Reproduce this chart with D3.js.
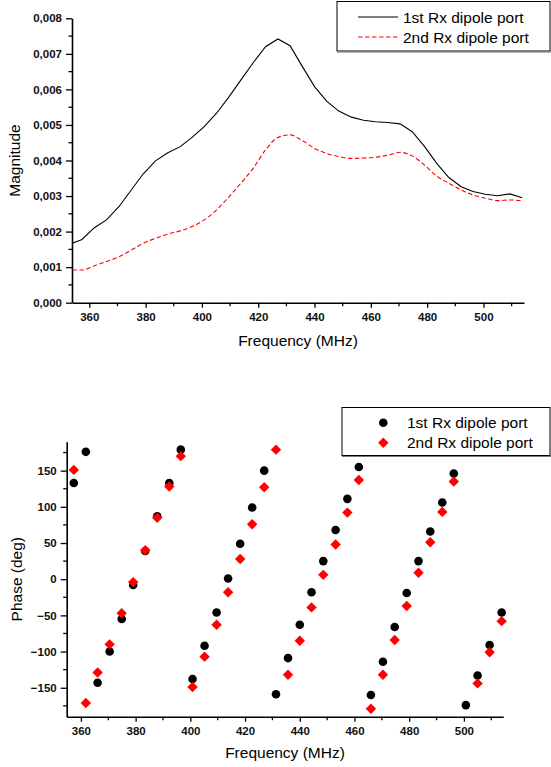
<!DOCTYPE html>
<html>
<head>
<meta charset="utf-8">
<script src="https://cdn.jsdelivr.net/npm/d3@7"></script>
<style>
  html, body { margin: 0; padding: 0; background: #fff; }
  svg { display: block; font-family: "Liberation Sans", Arial, sans-serif; }
</style>
</head>
<body>
<svg id="chart" width="551" height="767"></svg>
<script>
// Magnitude sweep (MHz) and the two receive-port responses
const magFreq = [354.0, 357.4, 361.8, 366.1, 370.5, 374.9, 379.1, 383.5, 387.9, 392.3, 396.5,
  400.8, 405.2, 409.6, 413.8, 418.2, 422.6, 427.0, 431.3, 435.7, 440.0, 444.3, 448.6, 453.1,
  457.4, 461.6, 466.0, 470.4, 474.7, 479.1, 483.4, 487.7, 492.1, 496.3, 500.7, 505.0, 509.4, 513.8];
const mag1st = [0.00167, 0.00178, 0.00211, 0.00233, 0.00270, 0.00317, 0.00362, 0.00399, 0.00422,
  0.00439, 0.00465, 0.00495, 0.00533, 0.00579, 0.00626, 0.00675, 0.00720, 0.00742, 0.00723,
  0.00664, 0.00608, 0.00567, 0.00539, 0.00522, 0.00513, 0.00509, 0.00507, 0.00503, 0.00481,
  0.00439, 0.00392, 0.00352, 0.00326, 0.00313, 0.00305, 0.00301, 0.00306, 0.00295];
const mag2nd = [0.00092, 0.00092, 0.00104, 0.00116, 0.00129, 0.00148, 0.00167, 0.00181, 0.00193,
  0.00202, 0.00214, 0.00233, 0.00261, 0.00298, 0.00336, 0.00378, 0.00430, 0.00465, 0.00472,
  0.00456, 0.00434, 0.00420, 0.00411, 0.00406, 0.00407, 0.00409, 0.00415, 0.00423, 0.00413,
  0.00387, 0.00356, 0.00336, 0.00317, 0.00303, 0.00294, 0.00287, 0.00289, 0.00287];

// Phase samples (MHz, degrees)
const phaseFreq = [357.4, 361.8, 366.1, 370.5, 374.9, 379.1, 383.5, 387.9, 392.3, 396.5,
  400.8, 405.2, 409.6, 413.8, 418.2, 422.6, 427.0, 431.3, 435.7, 440.0, 444.3, 448.6, 453.1,
  457.4, 461.6, 466.0, 470.4, 474.7, 479.1, 483.4, 487.7, 492.1, 496.3, 500.7, 505.0, 509.4, 513.8];
const phase1st = [133, 176, -143, -100, -55, -8, 39, 87, 133, 179,
  -138, -92, -46, 1, 49, 99, 150, -159, -109, -63, -18, 25, 68,
  111, 155, -160, -114, -66, -19, 25, 66, 106, 146, -174, -133, -91, -46];
const phase2nd = [151, -171, -129, -90, -47, -4, 40, 85, 128, 170,
  -149, -107, -63, -18, 28, 76, 127, 179, -132, -85, -39, 6, 48,
  92, 137, -179, -132, -84, -37, 9, 51, 93, 135, null, -144, -101, -58];

const seriesNames = ["1st Rx dipole port", "2nd Rx dipole port"];
const magTicksX = [360, 380, 400, 420, 440, 460, 480, 500];
const magTicksY = [0, 0.001, 0.002, 0.003, 0.004, 0.005, 0.006, 0.007, 0.008];
const phaseTicksY = [-150, -100, -50, 0, 50, 100, 150];

const svg = d3.select("#chart");
const fmtComma = v => d3.format(".3f")(v).replace(".", ",");

function styleAxis(g) {
  g.select(".domain").attr("stroke", "#000").attr("stroke-width", 1.6);
  g.selectAll(".tick line").attr("stroke", "#000").attr("stroke-width", 1.3);
  g.selectAll(".tick text").attr("font-size", "11.5px").attr("font-weight", "bold")
    .attr("font-family", "'Liberation Sans', Arial, sans-serif").attr("fill", "#111");
}

function minorTicks(g, scale, values, orient) {
  const sel = g.append("g");
  values.forEach(v => {
    const p = scale(v);
    if (orient === "bottom") sel.append("line").attr("x1", p).attr("x2", p).attr("y1", 0).attr("y2", 3.5);
    else sel.append("line").attr("y1", p).attr("y2", p).attr("x1", 0).attr("x2", -3.5);
  });
  sel.selectAll("line").attr("stroke", "#000").attr("stroke-width", 1.3);
}

/* ---------- Magnitude chart ---------- */
const x1 = d3.scaleLinear().domain([353.85, 514.4]).range([72, 524]);
const y1 = d3.scaleLinear().domain([0, 0.008]).range([302.7, 18.3]);

const gx1 = svg.append("g").attr("transform", `translate(0,${y1(0)})`)
  .call(d3.axisBottom(x1).tickValues(magTicksX).tickSize(5).tickPadding(5).tickSizeOuter(0));
styleAxis(gx1);
minorTicks(gx1, x1, [370, 390, 410, 430, 450, 470, 490, 510], "bottom");

const gy1 = svg.append("g").attr("transform", `translate(${x1.domain()[0] === 353.85 ? 72 : 72},0)`)
  .call(d3.axisLeft(y1).tickValues(magTicksY).tickFormat(fmtComma).tickSize(6).tickPadding(4).tickSizeOuter(0));
styleAxis(gy1);
minorTicks(gy1, y1, d3.range(0.0005, 0.008, 0.001), "left");

const magLine = (vals, curve) => d3.line()
  .x((d, i) => x1(magFreq[i])).y(d => y1(d)).curve(curve)(vals);

svg.append("path").attr("d", magLine(mag1st, d3.curveLinear))
  .attr("fill", "none").attr("stroke", "#000").attr("stroke-width", 1.1);
svg.append("path").attr("d", magLine(mag2nd, d3.curveMonotoneX))
  .attr("fill", "none").attr("stroke", "#ff0000").attr("stroke-width", 1.1)
  .attr("stroke-dasharray", "4.5,2.5");

svg.append("text").attr("x", 298).attr("y", 346).attr("text-anchor", "middle")
  .attr("font-size", "15.5px").text("Frequency (MHz)");
svg.append("text").attr("transform", `translate(20,${(y1(0) + y1(0.008)) / 2}) rotate(-90)`)
  .attr("text-anchor", "middle").attr("font-size", "15.5px").text("Magnitude");

// legend
const lg1 = svg.append("g");
lg1.append("rect").attr("x", 337).attr("y", 1.5).attr("width", 213).attr("height", 49.5)
  .attr("fill", "#fff").attr("stroke", "#000").attr("stroke-width", 1);
lg1.append("line").attr("x1", 337).attr("x2", 551).attr("y1", 52).attr("y2", 52)
  .attr("stroke", "#777").attr("stroke-width", 1.2);
lg1.append("line").attr("x1", 358).attr("x2", 398).attr("y1", 17).attr("y2", 17)
  .attr("stroke", "#000").attr("stroke-width", 1.1);
lg1.append("line").attr("x1", 358).attr("x2", 398).attr("y1", 37).attr("y2", 37)
  .attr("stroke", "#ff0000").attr("stroke-width", 1.1).attr("stroke-dasharray", "4.5,2.5");
lg1.selectAll("text.lab").data(seriesNames).join("text").attr("class", "lab")
  .attr("x", 403).attr("y", (d, i) => 22.5 + i * 20).attr("font-size", "15.5px").text(d => d);

/* ---------- Phase chart ---------- */
const x2 = d3.scaleLinear().domain([354.8, 514.4]).range([66.7, 503.3]);
const y2 = d3.scaleLinear().domain([-190, 190]).range([716.7, 441.7]);

const gx2 = svg.append("g").attr("transform", `translate(0,${y2(-190)})`)
  .call(d3.axisBottom(x2).tickValues(magTicksX).tickSize(5).tickPadding(5).tickSizeOuter(0));
styleAxis(gx2);
minorTicks(gx2, x2, [370, 390, 410, 430, 450, 470, 490, 510], "bottom");

const gy2 = svg.append("g").attr("transform", `translate(66.7,0)`)
  .call(d3.axisLeft(y2).tickValues(phaseTicksY).tickFormat(d3.format("d")).tickSize(6).tickPadding(4).tickSizeOuter(0));
styleAxis(gy2);
minorTicks(gy2, y2, [-175, -125, -75, -25, 25, 75, 125, 175], "left");

const diamond = r => `M0,${-r}L${r},0L0,${r}L${-r},0Z`;

svg.append("g").selectAll("circle").data(phase1st).join("circle")
  .attr("cx", (d, i) => x2(phaseFreq[i])).attr("cy", d => y2(d)).attr("r", 4.3).attr("fill", "#000");
svg.append("g").selectAll("path").data(phase2nd.map((v, i) => [phaseFreq[i], v]).filter(d => d[1] !== null))
  .join("path").attr("d", diamond(5.2))
  .attr("transform", d => `translate(${x2(d[0])},${y2(d[1])})`).attr("fill", "#ff0000");

svg.append("text").attr("x", 285).attr("y", 758).attr("text-anchor", "middle")
  .attr("font-size", "15.5px").text("Frequency (MHz)");
svg.append("text").attr("transform", `translate(22,${(y2(-190) + y2(190)) / 2}) rotate(-90)`)
  .attr("text-anchor", "middle").attr("font-size", "15.5px").text("Phase (deg)");

const lg2 = svg.append("g");
lg2.append("rect").attr("x", 342).attr("y", 407.5).attr("width", 208).attr("height", 48)
  .attr("fill", "#fff").attr("stroke", "#000").attr("stroke-width", 1);
lg2.append("line").attr("x1", 342).attr("x2", 551).attr("y1", 456.5).attr("y2", 456.5)
  .attr("stroke", "#777").attr("stroke-width", 1.2);
lg2.append("circle").attr("cx", 383.3).attr("cy", 422.7).attr("r", 4.3).attr("fill", "#000");
lg2.append("path").attr("d", diamond(5.2)).attr("transform", "translate(383.3,442.7)").attr("fill", "#ff0000");
lg2.selectAll("text.lab").data(seriesNames).join("text").attr("class", "lab")
  .attr("x", 407).attr("y", (d, i) => 428 + i * 20).attr("font-size", "15.5px").text(d => d);
</script>
</body>
</html>
